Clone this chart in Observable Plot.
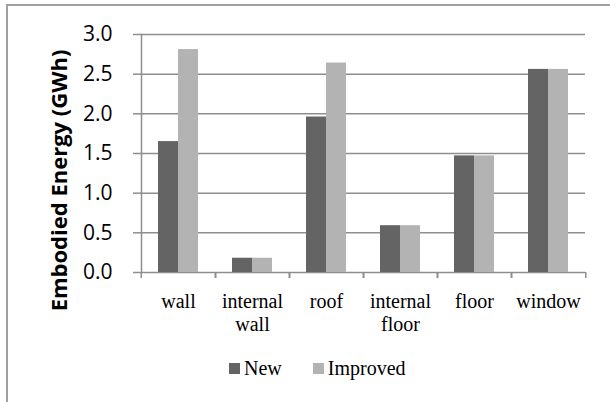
<!DOCTYPE html>
<html><head><meta charset="utf-8">
<script src="https://cdn.jsdelivr.net/npm/d3@7"></script>
<script src="https://cdn.jsdelivr.net/npm/@observablehq/plot@0.6"></script>
<style>
html,body{margin:0;padding:0;background:#fff;width:610px;height:402px;overflow:hidden;}
#frame{position:absolute;left:6px;top:4px;width:700px;height:500px;border-left:2px solid #a0a0a0;border-top:2px solid #a0a0a0;}
#chart{position:absolute;left:0;top:0;}
#legend{position:absolute;left:229px;top:352px;}
#legend .lg-swatches{font-family:"Liberation Serif";font-size:20px;color:#000;margin:0;}
#legend .lg-swatch{margin-right:31px;}
#legend .lg-swatch > svg{margin-right:4px;}
</style></head><body>
<div id="frame"></div><div id="chart"></div><div id="legend"></div>
<script>
const categories = ["wall", "internal wall", "roof", "internal floor", "floor", "window"];
const series = ["New", "Improved"];
const newValues = [1.65, 0.18, 1.96, 0.59, 1.47, 2.56];
const improvedValues = [2.81, 0.18, 2.64, 0.59, 1.47, 2.56];
const yTicks = [0, 0.5, 1, 1.5, 2, 2.5, 3];
const colors = ["#646464", "#b3b3b3"];
const yTitle = "Embodied Energy (GWh)";

const data = categories.flatMap((c, i) => [
  {category: c, series: "New", value: newValues[i]},
  {category: c, series: "Improved", value: improvedValues[i]}
]);
const grid = "#8e8e8e";
const plot = Plot.plot({
  width: 610, height: 340, marginLeft: 139, marginRight: 24, marginTop: 34, marginBottom: 68,
  style: {fontFamily: "Open Sans", fontSize: "21px", color: "#000", background: "transparent", overflow: "visible"},
  fx: {domain: categories, padding: 0, label: null},
  x: {domain: series, paddingInner: 0, paddingOuter: 0.774, axis: null},
  y: {domain: [0, 3], ticks: yTicks, label: null},
  color: {domain: series, range: colors},
  marks: [
    Plot.gridY(yTicks, {stroke: grid, strokeOpacity: 1, strokeWidth: 1.5}),
    Plot.barY(data, {fx: "category", x: "series", y: "value", fill: "series"}),
    Plot.axisY(yTicks, {text: null, tickSize: 8, stroke: grid, strokeWidth: 1.5, label: null}),
    Plot.axisY(yTicks, {tickSize: 0, tickPadding: 29, tickFormat: d3.format(".1f"), fontFamily: "Open Sans", fontSize: 21, fill: "#000", label: null}),
    Plot.axisFx({anchor: "bottom", text: null, tickSize: 6, dx: -37.25, stroke: grid, strokeWidth: 1.5, label: null}),
    Plot.axisFx({anchor: "bottom", text: null, tickSize: 6, dx: 37.25, stroke: grid, strokeWidth: 1.5, label: null}),
    Plot.axisFx({anchor: "bottom", tickSize: 0, tickPadding: 19, tickFormat: d => d.replace(" ", "\n"), lineHeight: 1.15, fontFamily: "Liberation Serif", fontSize: 20, fill: "#000", label: null}),
    Plot.frame({anchor: "left", facet: "super", stroke: grid, strokeWidth: 1.5}),
    Plot.text([yTitle], {facet: "super", frameAnchor: "left", textAnchor: "middle", lineAnchor: "middle", rotate: -90, dx: -82, dy: 27, fontFamily: "Open Sans", fontWeight: "bold", fontSize: 22, fill: "#000"})
  ]
});
document.getElementById("chart").appendChild(plot);
const legend = Plot.legend({color: {domain: series, range: colors}, legend: "swatches", swatchSize: 11, className: "lg"});
document.getElementById("legend").appendChild(legend);
</script>
</body></html>
